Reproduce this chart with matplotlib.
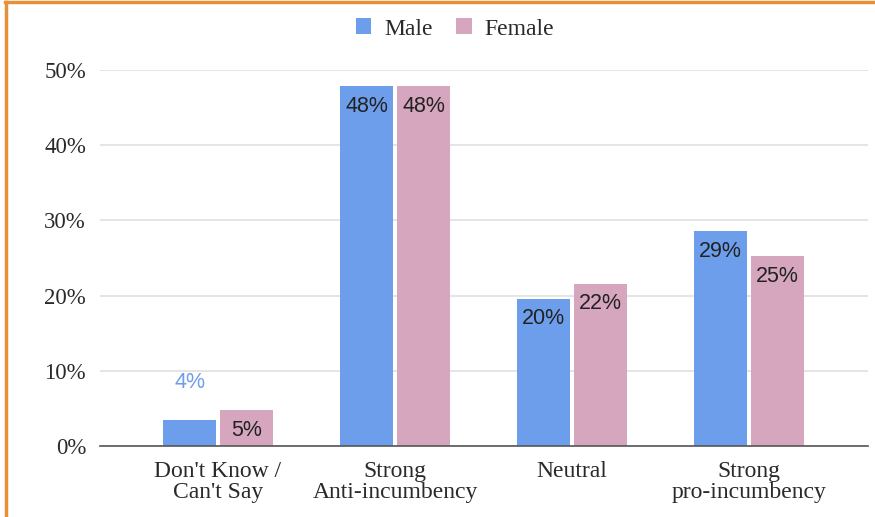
import matplotlib
matplotlib.use("Agg")
import matplotlib.pyplot as plt
from matplotlib.lines import Line2D
import numpy as np

categories = ["Don't Know /\nCan't Say", "Strong\nAnti-incumbency", "Neutral", "Strong\npro-incumbency"]
male = [3.5, 47.9, 19.6, 28.6]
female = [4.8, 47.9, 21.6, 25.3]
male_labels = ["4%", "48%", "20%", "29%"]
female_labels = ["5%", "48%", "22%", "25%"]
yticks = [0, 10, 20, 30, 40, 50]

BLUE = "#6d9eeb"
PINK = "#d5a6bd"
TXT = "#2a2a2a"
SERIF = ["Liberation Serif", "DejaVu Serif"]
SANS = ["Liberation Sans", "DejaVu Sans"]

fig = plt.figure(figsize=(8.75, 5.17), dpi=100)
ax = fig.add_axes([100/875, 1-446/517, 768/875, 376/517])

x = np.arange(len(categories))
w = 0.30
off = 0.161
bm = ax.bar(x - off, male, w, color=BLUE, label="Male", zorder=3)
bf = ax.bar(x + off, female, w, color=PINK, label="Female", zorder=3)

LFS = 15.5
for i, (r, lab) in enumerate(zip(bm, male_labels)):
    h = r.get_height()
    cx = r.get_x() + r.get_width()/2
    if h < 8:
        ax.text(cx, h + 4.9, lab, ha="center", va="center", fontsize=LFS,
                color=BLUE, family=SANS, zorder=4)
    else:
        ax.text(cx, h - 2.7, lab, ha="center", va="center", fontsize=LFS,
                color="#222222", family=SANS, zorder=4)
for r, lab in zip(bf, female_labels):
    h = r.get_height()
    cx = r.get_x() + r.get_width()/2
    ax.text(cx, h - 2.7, lab, ha="center", va="center", fontsize=LFS,
            color="#222222", family=SANS, zorder=4)

ax.set_xlim((100-218)/177, (868-218)/177)
ax.set_ylim(0, 50)
ax.set_yticks(yticks)
ax.set_yticklabels([f"{v}%" for v in yticks], family=SERIF, fontsize=16.5, color=TXT)
ax.set_xticks(x)
ax.set_xticklabels(categories, family=SERIF, fontsize=17, color=TXT, linespacing=1.05)
ax.tick_params(axis="both", length=0)
ax.tick_params(axis="y", pad=10)
ax.tick_params(axis="x", pad=10.5)
ax.grid(axis="y", color="#e0e0e0", linewidth=1.2, zorder=0)
ax.set_axisbelow(True)
for s in ["top", "right", "left"]:
    ax.spines[s].set_visible(False)
ax.spines["bottom"].set_color("#555555")
ax.spines["bottom"].set_linewidth(1.2)
ax.spines["bottom"].set_zorder(5)

leg = fig.legend(handles=[bm, bf], labels=["Male", "Female"], loc="center",
                 bbox_to_anchor=(455/875, 1-29/517), ncol=2, frameon=False,
                 prop={"family": SERIF, "size": 17}, handlelength=0.65, handleheight=0.65,
                 handletextpad=0.55, columnspacing=1.0)
for t in leg.get_texts():
    t.set_color(TXT)

ORANGE = "#e69138"
fig.add_artist(Line2D([5/875, 1], [1-2/517, 1-2/517], color=ORANGE, linewidth=2.5, transform=fig.transFigure))
fig.add_artist(Line2D([6/875, 6/875], [0, 1-2/517], color=ORANGE, linewidth=2.5, transform=fig.transFigure))

fig.savefig("out.png", dpi=100, facecolor="white")
